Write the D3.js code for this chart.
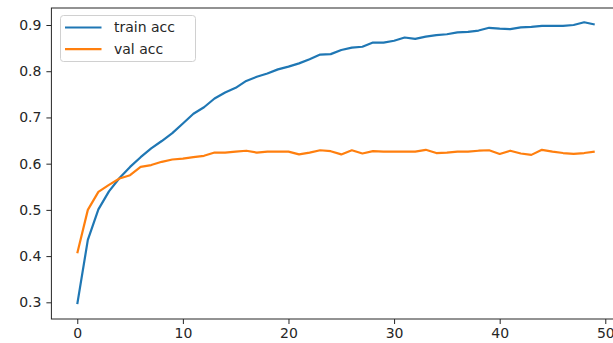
<!DOCTYPE html>
<html>
<head>
<meta charset="utf-8">
<script src="https://cdn.jsdelivr.net/npm/d3@7"></script>
<style>
  body { margin: 0; background: #fff; }
  svg { display: block; font-family: "DejaVu Sans", sans-serif; }
</style>
</head>
<body>
<div id="my_dataviz"></div>
<script>

// epochs and accuracy curves
var epochs = d3.range(0, 50);
var trainAcc = [0.296, 0.435, 0.501, 0.540, 0.569, 0.593, 0.614, 0.633, 0.649, 0.666,
                0.687, 0.708, 0.722, 0.741, 0.754, 0.764, 0.779, 0.788, 0.795, 0.804,
                0.810, 0.817, 0.826, 0.836, 0.837, 0.846, 0.851, 0.853, 0.862, 0.862,
                0.866, 0.873, 0.870, 0.875, 0.878, 0.880, 0.884, 0.885, 0.888, 0.894,
                0.892, 0.891, 0.895, 0.896, 0.898, 0.898, 0.898, 0.900, 0.906, 0.901];
var valAcc = [0.406, 0.500, 0.539, 0.554, 0.568, 0.575, 0.593, 0.597, 0.604, 0.609,
              0.611, 0.614, 0.617, 0.624, 0.624, 0.626, 0.628, 0.624, 0.626, 0.626,
              0.626, 0.620, 0.624, 0.629, 0.627, 0.620, 0.629, 0.622, 0.627, 0.626,
              0.626, 0.626, 0.626, 0.630, 0.623, 0.624, 0.626, 0.626, 0.628, 0.629,
              0.621, 0.628, 0.622, 0.619, 0.630, 0.626, 0.623, 0.621, 0.623, 0.626];
var xTicks = [0, 10, 20, 30, 40, 50];
var yTicks = [0.3, 0.4, 0.5, 0.6, 0.7, 0.8, 0.9];
var seriesNames = ["train acc", "val acc"];
var seriesColors = ["#1f77b4", "#ff7f0e"];

var W = 613, H = 343;
var plot = {left: 51.4, right: 620.6, top: 8, bottom: 319};

var svg = d3.select("#my_dataviz")
  .append("svg")
    .attr("width", W)
    .attr("height", H);

var x = d3.scaleLinear()
  .domain([-2.45, 51.45])
  .range([plot.left, plot.right]);

var y = d3.scaleLinear()
  .domain([0.2639, 0.9368])
  .range([plot.bottom, plot.top]);

// x axis
var gx = svg.append("g")
  .attr("transform", "translate(0," + plot.bottom + ")")
  .call(d3.axisBottom(x).tickValues(xTicks).tickSize(5).tickSizeOuter(0).tickPadding(4)
        .tickFormat(d3.format("d")));
gx.select(".domain").remove();

// y axis
var gy = svg.append("g")
  .attr("transform", "translate(" + plot.left + ",0)")
  .call(d3.axisLeft(y).tickValues(yTicks).tickSize(5).tickSizeOuter(0).tickPadding(5)
        .tickFormat(d3.format(".1f")));
gy.select(".domain").remove();

svg.selectAll(".tick text")
  .style("font-size", "14px")
  .style("font-family", "DejaVu Sans, sans-serif")
  .attr("fill", "#262626");
svg.selectAll(".tick line")
  .attr("stroke", "#262626")
  .attr("stroke-width", 1);

// lines
var series = [trainAcc, valAcc];
var line = d3.line()
  .x(function(d, i) { return x(epochs[i]); })
  .y(function(d) { return y(d); });

series.forEach(function(s, k) {
  svg.append("path")
    .datum(s)
    .attr("fill", "none")
    .attr("stroke", seriesColors[k])
    .attr("stroke-width", 2.2)
    .attr("stroke-linejoin", "round")
    .attr("d", line);
});

// frame
svg.append("rect")
  .attr("x", plot.left)
  .attr("y", plot.top)
  .attr("width", plot.right - plot.left)
  .attr("height", plot.bottom - plot.top)
  .attr("fill", "none")
  .attr("stroke", "#262626")
  .attr("stroke-width", 1);

// legend
var legend = svg.append("g");
legend.append("rect")
  .attr("x", 60.5)
  .attr("y", 15.5)
  .attr("width", 135)
  .attr("height", 46)
  .attr("rx", 3)
  .attr("fill", "#fff")
  .attr("fill-opacity", 0.8)
  .attr("stroke", "#d0d0d0");

seriesNames.forEach(function(name, k) {
  var ly = 27.5 + k * 21.7;
  legend.append("line")
    .attr("x1", 65).attr("x2", 101.5)
    .attr("y1", ly).attr("y2", ly)
    .attr("stroke", seriesColors[k])
    .attr("stroke-width", 2.2);
  legend.append("text")
    .attr("x", 114)
    .attr("y", ly)
    .attr("dy", "0.35em")
    .style("font-size", "14px")
    .attr("fill", "#262626")
    .text(name);
});

</script>
</body>
</html>
